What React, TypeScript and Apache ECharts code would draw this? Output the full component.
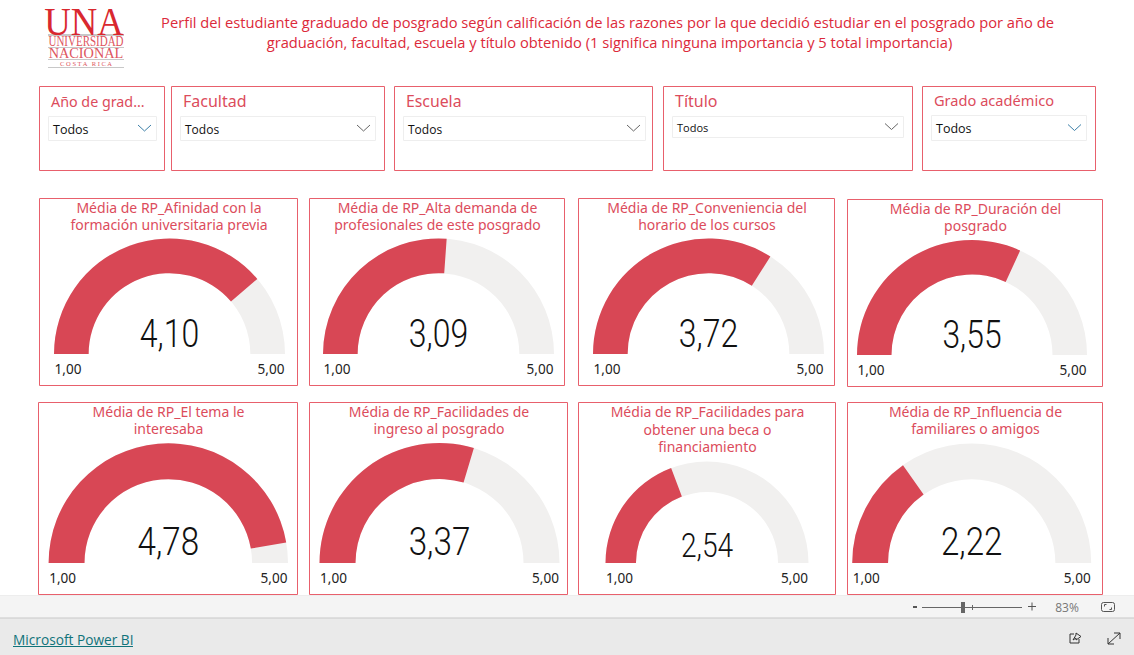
import React, { useEffect, useRef } from "react";
import * as echarts from "echarts";

const reportTitle = [
  "Perfil del estudiante graduado de posgrado según calificación de las razones por la que decidió estudiar en el posgrado por año de",
  "graduación, facultad, escuela y título obtenido (1 significa ninguna importancia y 5 total importancia)",
];
const gaugeTitles = [
  "Média de RP_Afinidad con la\nformación universitaria previa",
  "Média de RP_Alta demanda de\nprofesionales de este posgrado",
  "Média de RP_Conveniencia del\nhorario de los cursos",
  "Média de RP_Duración del\nposgrado",
  "Média de RP_El tema le\ninteresaba",
  "Média de RP_Facilidades de\ningreso al posgrado",
  "Média de RP_Facilidades para\nobtener una beca o\nfinanciamiento",
  "Média de RP_Influencia de\nfamiliares o amigos",
];
const gaugeValues = [4.1, 3.09, 3.72, 3.55, 4.78, 3.37, 2.54, 2.22];
const gaugeMin = 1;
const gaugeMax = 5;
const slicerTitles = ["Año de grad...", "Facultad", "Escuela", "Título", "Grado académico"];
const slicerValue = "Todos";

const RED = "#D84755";
const BORDER = "#E8606C";
const TITLE_RED = "#DC4C5C";
const UI = "Open Sans";
const LABEL = "Noto Sans";

// [boxX, boxY, boxW, boxH, centerX, baselineY, outerR, titleCenterY, numberOffsetY]
const cards = [
  [39.5, 198.5, 258, 187, 169.5, 354, 115.5, 216, -20],
  [309.5, 198.5, 255, 187, 438.5, 354, 115.5, 216, -20],
  [578.5, 198.5, 256, 187, 708.5, 354, 115.5, 216, -20],
  [847.5, 199.5, 255, 187, 972, 355, 115, 217, -20],
  [38.5, 402.5, 259, 192, 168.3, 563, 119.7, 420, -21.5],
  [309.5, 402.5, 258, 192, 439.5, 563, 120, 420, -21.5],
  [578.5, 402.5, 257, 192, 707, 563, 101.5, 429, -17.5],
  [847.5, 402.5, 255, 192, 971.7, 563, 119.5, 420, -21.5],
];
// [x, y, w, h, labelX, labelY, fontSize, dropX, dropY, dropW, dropH, textSize]
const slicers = [
  [39.5, 86.5, 125, 84, 51, 101, 14.3, 48, 116, 108, 24, 12.5],
  [171.5, 86.5, 213, 84, 183, 101, 16, 180, 116, 195, 24, 12],
  [394.5, 86.5, 258, 84, 406, 101, 15.8, 403, 116, 242, 24, 12],
  [663.5, 86.5, 249, 84, 675, 101, 16, 672, 116, 231, 21, 11],
  [922.5, 86.5, 173, 84, 934, 100, 14.6, 931, 115, 155, 25, 12.5],
];

const fmt = (v: number) => v.toFixed(2).replace(".", ",");

export default function App() {
  const ref = useRef<HTMLDivElement>(null);
  useEffect(() => {
    document.body.style.margin = "0";
    const chart = echarts.init(ref.current!, null, { renderer: "svg" });
    const graphics: any[] = [];
    const txt = (x: number, y: number, text: string, fontSize: number, fill: string, fontFamily = UI, align = "left", extra: any = {}, el: any = {}) => ({
      type: "text", x, y, z: 10, ...el, style: { text, fontSize, fill, fontFamily, align, verticalAlign: "middle", ...extra },
    });
    const line = (pts: number[][], stroke = "#333") => ({ type: "polyline", shape: { points: pts }, style: { fill: "none", stroke, lineWidth: 1 } });
    // footer
    graphics.push({ type: "rect", shape: { x: 0, y: 596, width: 1134, height: 22 }, style: { fill: "#F4F4F4" } });
    graphics.push({ type: "rect", shape: { x: 0, y: 618, width: 1134, height: 37 }, style: { fill: "#EAEAEA" } });
    graphics.push({ type: "line", shape: { x1: 0, y1: 618, x2: 1134, y2: 618 }, style: { stroke: "#C8C8C8", lineWidth: 1 } });
    graphics.push({ type: "line", shape: { x1: 0, y1: 595.5, x2: 1134, y2: 595.5 }, style: { stroke: "#EDEDED", lineWidth: 1 } });
    graphics.push(txt(13, 639, "Microsoft Power BI", 13.7, "#10737A", UI, "left", { fontWeight: 500 }));
    graphics.push({ type: "line", shape: { x1: 13, y1: 646.5, x2: 133, y2: 646.5 }, style: { stroke: "#10737A", lineWidth: 1 } });
    graphics.push({ type: "rect", shape: { x: 913, y: 606, width: 4, height: 2 }, style: { fill: "#555" } });
    graphics.push({ type: "line", shape: { x1: 922, y1: 607.5, x2: 1022, y2: 607.5 }, style: { stroke: "#666", lineWidth: 1 } });
    graphics.push({ type: "rect", shape: { x: 961, y: 602, width: 4, height: 11 }, style: { fill: "#666" } });
    graphics.push({ type: "line", shape: { x1: 972.5, y1: 605, x2: 972.5, y2: 610 }, style: { stroke: "#666", lineWidth: 1 } });
    graphics.push(line([[1028, 606.5], [1036, 606.5]], "#555"));
    graphics.push(line([[1032, 602.5], [1032, 610.5]], "#555"));
    graphics.push(txt(1067, 607, "83%", 12, "#777", UI, "center"));
    graphics.push({ type: "rect", shape: { x: 1101.5, y: 602.5, width: 13, height: 9, r: 2 }, style: { fill: "none", stroke: "#555", lineWidth: 1 } });
    graphics.push(line([[1104.5, 606.5], [1104.5, 604.5], [1106.5, 604.5]], "#555"));
    graphics.push(line([[1109.5, 609.5], [1111.5, 609.5], [1111.5, 607.5]], "#555"));
    graphics.push(line([[1070, 634], [1070, 643], [1079, 643], [1079, 639]]));
    graphics.push(line([[1070, 634], [1074, 634]]));
    graphics.push(line([[1073, 640], [1076, 635], [1076, 633], [1081, 636.5], [1076, 640], [1076, 638], [1073, 640]]));
    graphics.push({ type: "line", shape: { x1: 1108, y1: 644, x2: 1120, y2: 633 }, style: { stroke: "#333", lineWidth: 1 } });
    graphics.push(line([[1108, 638], [1108, 644], [1114, 644]]));
    graphics.push(line([[1114, 633], [1120, 633], [1120, 639]]));
    // logo
    const SERIF = "Liberation Serif";
    graphics.push(txt(84, 21, "UNA", 34, "#D9282F", SERIF, "center", { lineHeight: 28 }, { scaleX: 1.08, scaleY: 1.2 }));
    graphics.push({ type: "rect", shape: { x: 48, y: 34, width: 76, height: 2 }, style: { fill: "#C8C8C8" } });
    graphics.push(txt(86, 42, "UNIVERSIDAD", 11, "#DD5560", SERIF, "center", { lineHeight: 9 }, { scaleX: 1, scaleY: 1.27 }));
    graphics.push({ type: "rect", shape: { x: 48, y: 47, width: 76, height: 1 }, style: { fill: "#C8C8C8" } });
    graphics.push(txt(86, 53.5, "NACIONAL", 11, "#DD5560", SERIF, "center", { lineHeight: 9 }, { scaleX: 1.3, scaleY: 1.27 }));
    graphics.push({ type: "rect", shape: { x: 48, y: 59, width: 76, height: 1 }, style: { fill: "#C8C8C8" } });
    graphics.push(txt(86, 63.5, "C O S T A   R I C A", 6.5, "#DD5560", SERIF, "center", { lineHeight: 6 }));
    graphics.push({ type: "rect", shape: { x: 48, y: 67, width: 76, height: 1 }, style: { fill: "#C8C8C8" } });
    // report title
    graphics.push(txt(607.5, 22, reportTitle[0], 14.7, "#DC2A3A", UI, "center"));
    graphics.push(txt(609.5, 42, reportTitle[1], 14.7, "#DC2A3A", UI, "center"));
    // slicers
    slicers.forEach((s, i) => {
      const [x, y, w, h, lx, ly, fs, dx, dy, dw, dh, ts] = s;
      graphics.push({ type: "rect", shape: { x, y, width: w, height: h }, style: { fill: "#fff", stroke: BORDER, lineWidth: 1 } });
      graphics.push(txt(lx, ly, slicerTitles[i], fs, TITLE_RED, LABEL));
      graphics.push({ type: "rect", z: 2, shape: { x: dx + 0.5, y: dy + 0.5, width: dw, height: dh }, style: { fill: "#fff", stroke: "#EEEEEE", lineWidth: 1 } });
      graphics.push(txt(dx + 5, dy + dh / 2 + 1, slicerValue, ts, "#111", UI));
      const cy = dy + dh / 2;
      graphics.push({ type: "polyline", z: 3, shape: { points: [[dx + dw - 18, cy - 3], [dx + dw - 11.5, cy + 3], [dx + dw - 5, cy - 3]] }, style: { fill: "none", stroke: i === 0 || i === 4 ? "#3C7FA8" : "#666", lineWidth: 1 } });
    });
    const series: any[] = [];
    cards.forEach((c, i) => {
      const [bx, by, bw, bh, cx, cy, r, ty, ny] = c;
      graphics.push({ type: "rect", shape: { x: bx, y: by, width: bw, height: bh }, style: { fill: "#fff", stroke: BORDER, lineWidth: 1 } });
      graphics.push(txt(bx + bw / 2 + 0.5, ty, gaugeTitles[i], 14, TITLE_RED, LABEL, "center", { lineHeight: 17.5 }));
      const labelY = cy + 14;
      graphics.push(txt(cx - r + 14, labelY, fmt(gaugeMin), 14, "#222", LABEL, "center", {}, { scaleX: 0.97 }));
      graphics.push(txt(cx + r - 14, labelY, fmt(gaugeMax), 14, "#222", LABEL, "center", {}, { scaleX: 0.97 }));
      graphics.push(txt(cx, cy + ny, fmt(gaugeValues[i]), r * 0.33, "#111", "Roboto", "center", { fontWeight: 300 }, { scaleX: 0.84 }));
      const width = r * 0.3;
      series.push({
        type: "gauge", z: 5, center: [cx, cy], radius: r, min: gaugeMin, max: gaugeMax, startAngle: 180, endAngle: 0,
        axisLine: { roundCap: false, lineStyle: { width, color: [[1, "#F1F0EF"]] } },
        progress: { show: true, width, roundCap: false, itemStyle: { color: RED } },
        pointer: { show: false }, axisTick: { show: false }, splitLine: { show: false }, axisLabel: { show: false },
        anchor: { show: false }, title: { show: false }, detail: { show: false },
        data: [{ value: gaugeValues[i] }],
      });
    });
    chart.setOption({ animation: false, backgroundColor: "#fff", graphic: { elements: graphics }, series });
    return () => chart.dispose();
  }, []);
  return <div ref={ref} style={{ position: "fixed", left: 0, top: 0, width: 1134, height: 655 }} />;
}
